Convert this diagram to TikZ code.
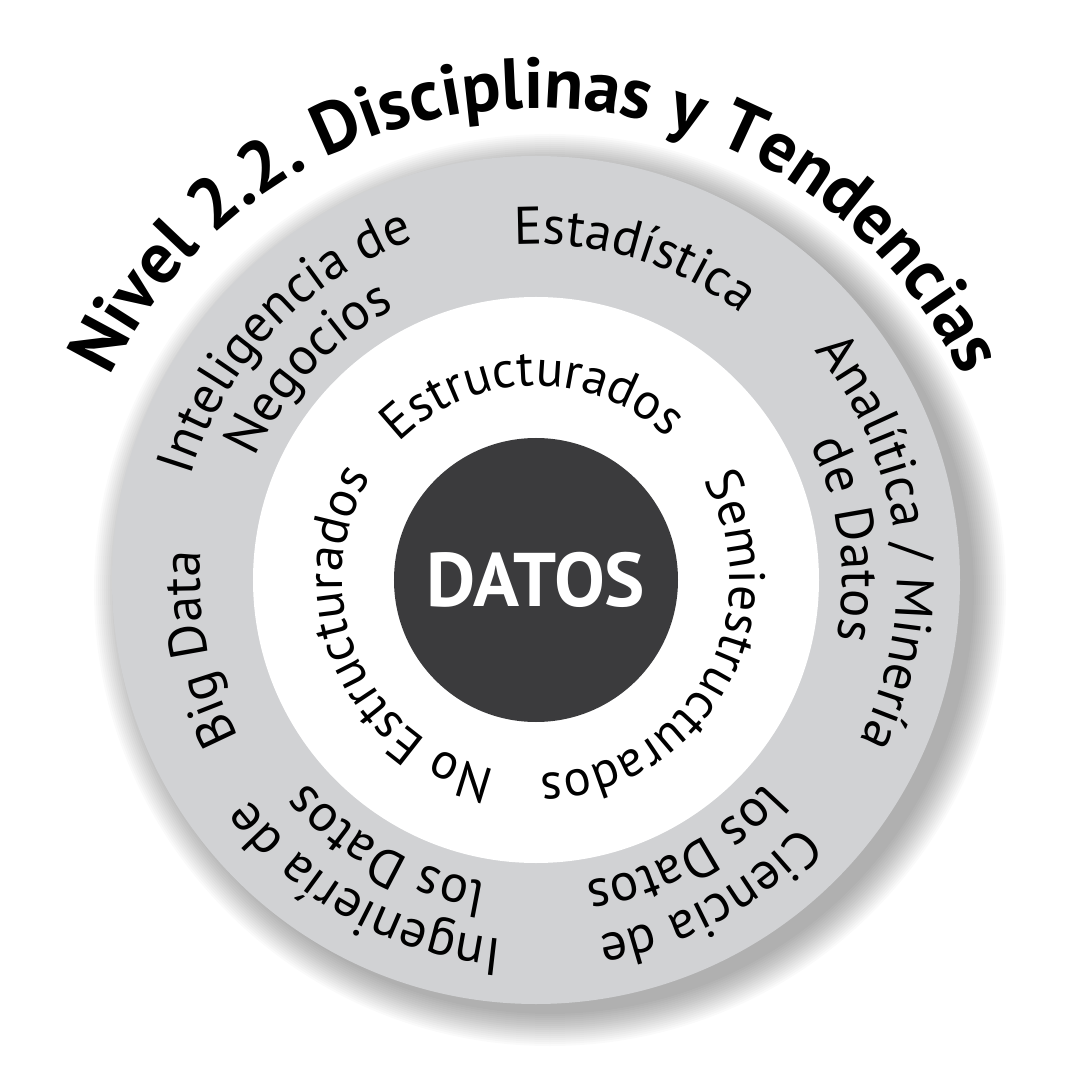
\documentclass[tikz,border=0pt]{standalone}
\usepackage{fontspec}
\setmainfont{PT Sans}
\usetikzlibrary{decorations.text}
\definecolor{ringgray}{HTML}{D1D2D4}
\definecolor{coregray}{HTML}{3B3B3D}
\newcommand{\ringfnt}{\fontsize{53pt}{60pt}\selectfont}
\newcommand{\innerfnt}{\fontsize{51pt}{60pt}\selectfont}
\newcommand{\titlefnt}{\fontsize{72pt}{80pt}\selectfont\bfseries}
% #1 centre angle, #2 baseline radius, #3 half span, #4 text
\newcommand{\arctext}[4]{%
  \path[decorate, decoration={text along path, text={#4}, text align=center}]
    ({#1+#3}:#2) arc[start angle={#1+#3}, end angle={#1-#3}, radius=#2];}
\begin{document}
\begin{tikzpicture}[x=1pt,y=1pt]
\useasboundingbox (-536,-512) rectangle (529,580);
\fill[white] (-536,-512) rectangle (529,580);
% soft drop shadow of the grey disc
\foreach \k in {0,2,...,32} {\fill[black,opacity=0.02] (14,-10) circle ({424+\k});}
\fill[ringgray] (0,0) circle (424);
\fill[white] (0,0) circle (283);
\node[circle, fill=coregray, minimum size=284pt, inner sep=0pt, text=white,
      font=\fontsize{76pt}{76pt}\selectfont\bfseries] (core) at (0,0) {DATOS};
% title
\arctext{90}{472}{89}{|\titlefnt|Nivel 2.2. Disciplinas y Tendencias}
% outer ring labels
\arctext{73}{336}{60}{|\ringfnt|Estadística}
\arctext{191.5}{336}{60}{|\ringfnt|Big Data}
\arctext{136.5}{361}{60}{|\ringfnt|Inteligencia de}
\arctext{137}{306}{60}{|\ringfnt|Negocios}
\arctext{6.5}{361}{70}{|\ringfnt|Analítica / Minería}
\arctext{7.5}{306}{60}{|\ringfnt|de Datos}
\arctext{-61.5}{361}{60}{|\ringfnt|Ciencia de}
\arctext{-61}{306}{60}{|\ringfnt|los Datos}
\arctext{241}{361}{60}{|\ringfnt|Ingeniería de}
\arctext{241}{306}{60}{|\ringfnt|los Datos}
% inner ring labels
\arctext{91}{194}{80}{|\innerfnt|Estructurados}
\arctext{-29}{194}{85}{|\innerfnt|Semiestructurados}
\arctext{203}{194}{85}{|\innerfnt|No Estructurados}
\end{tikzpicture}
\end{document}
